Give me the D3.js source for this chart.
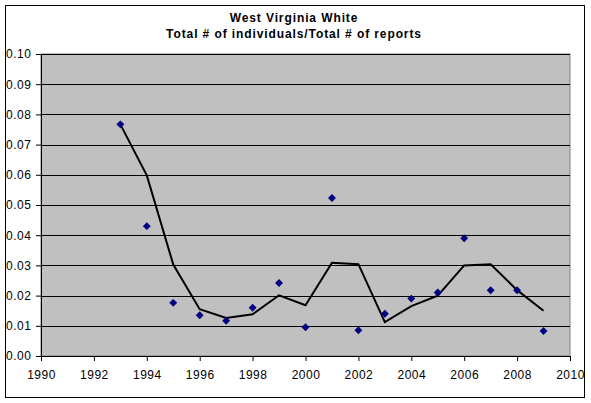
<!DOCTYPE html>
<meta charset="utf-8">
<style>
  body { margin: 0; background: #fff; }
  svg { display: block; }
  text { font-family: "Liberation Sans", Arial, sans-serif; fill: #000; }
</style>
<body>
<svg></svg>
<script src="https://cdn.jsdelivr.net/npm/d3@7"></script>
<script>

// data
var years = [1993, 1994, 1995, 1996, 1997, 1998, 1999, 2000, 2001,
             2002, 2003, 2004, 2005, 2006, 2007, 2008, 2009];
var ratios = [0.0767, 0.0430, 0.0176, 0.0135, 0.0117, 0.0160, 0.0242, 0.0095, 0.0523,
              0.0085, 0.0140, 0.0190, 0.0210, 0.0390, 0.0218, 0.0218, 0.0083];
// trendline as drawn (starts on the first point, then 2 period averages)
var trendYears = [1993, 1994, 1995, 1996, 1997, 1998, 1999, 2000, 2001,
                  2002, 2003, 2004, 2005, 2006, 2007, 2008, 2009];
var trendValues = [0.0767, 0.0598, 0.0303, 0.0155, 0.0126, 0.0138, 0.0201, 0.0168, 0.0309,
                   0.0304, 0.0112, 0.0165, 0.0200, 0.0300, 0.0304, 0.0218, 0.0150];
var xTicks = [1990, 1992, 1994, 1996, 1998, 2000, 2002, 2004, 2006, 2008, 2010];
var yTicks = [0, 0.01, 0.02, 0.03, 0.04, 0.05, 0.06, 0.07, 0.08, 0.09, 0.10];
var titleLines = ["West Virginia White", "Total # of individuals/Total # of reports"];

var width = 591, height = 403;
var svg = d3.select("svg").attr("width", width).attr("height", height);

// outer chart border
svg.append("rect")
   .attr("x", 5.5).attr("y", 5.5)
   .attr("width", 579).attr("height", 392)
   .attr("fill", "#fff").attr("stroke", "#000").attr("stroke-width", 1);

var plotLeft = 41, plotRight = 570, plotTop = 54, plotBottom = 356;

var x = d3.scaleLinear().domain([1990, 2010]).range([plotLeft, plotRight]);
var y = d3.scaleLinear().domain([0, 0.10]).range([plotBottom, plotTop]);

// plot area
svg.append("rect")
   .attr("x", plotLeft).attr("y", plotTop)
   .attr("width", plotRight - plotLeft).attr("height", plotBottom - plotTop)
   .attr("fill", "#c0c0c0").attr("stroke", "#808080").attr("stroke-width", 1);

// gridlines
svg.append("g").selectAll("line")
   .data(yTicks.slice(1))
   .enter().append("line")
   .attr("x1", plotLeft).attr("x2", plotRight)
   .attr("y1", function(d){ return Math.round(y(d)) + 0.5; })
   .attr("y2", function(d){ return Math.round(y(d)) + 0.5; })
   .attr("stroke", "#000").attr("stroke-width", 1);

// axes
var xAxis = svg.append("g")
   .attr("transform", "translate(0," + plotBottom + ")")
   .call(d3.axisBottom(x).tickValues(xTicks).tickFormat(d3.format("d")).tickSize(5).tickPadding(9));
var yAxis = svg.append("g")
   .attr("transform", "translate(" + plotLeft + ",0)")
   .call(d3.axisLeft(y).tickValues(yTicks).tickFormat(d3.format(".2f")).tickSize(5).tickPadding(5));

[xAxis, yAxis].forEach(function(a){
  a.selectAll("path, line").attr("stroke", "#000");
  a.selectAll("text").attr("font-size", "12px").attr("letter-spacing", "0.5px")
   .attr("font-family", "'Liberation Sans', Arial, sans-serif").attr("fill", "#000");
});
yAxis.selectAll("text").attr("text-anchor", "start").attr("x", -35);

// trendline
var line = d3.line()
   .x(function(d){ return x(d[0]); })
   .y(function(d){ return y(d[1]); });
svg.append("path")
   .datum(d3.zip(trendYears, trendValues))
   .attr("d", line)
   .attr("fill", "none").attr("stroke", "#000").attr("stroke-width", 2);

// markers
svg.append("g").selectAll("path")
   .data(d3.zip(years, ratios))
   .enter().append("path")
   .attr("d", d3.symbol().type(d3.symbolDiamond2).size(40))
   .attr("transform", function(d){ return "translate(" + x(d[0]) + "," + y(d[1]) + ")"; })
   .attr("fill", "#000080");

// title
svg.append("g").selectAll("text")
   .data(titleLines)
   .enter().append("text")
   .attr("x", 294)
   .attr("y", function(d, i){ return 22 + i * 16; })
   .attr("text-anchor", "middle")
   .attr("font-size", "12px")
   .attr("font-weight", "bold")
   .attr("letter-spacing", "0.9px")
   .text(function(d){ return d; });

</script>
</body>
</html>
